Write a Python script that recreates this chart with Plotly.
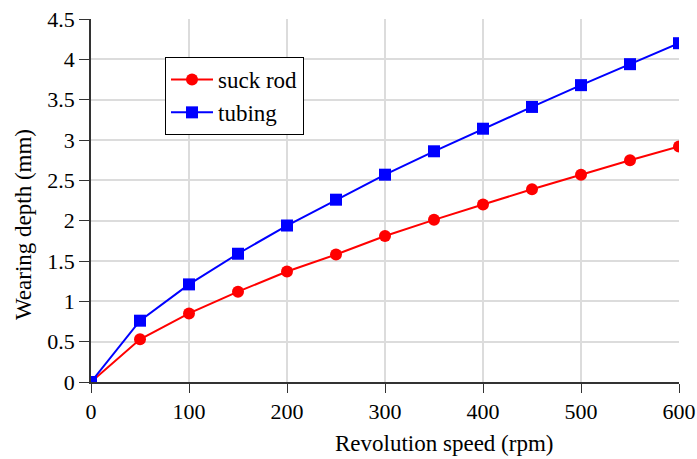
import plotly.graph_objects as go

speed = [0, 50, 100, 150, 200, 250, 300, 350, 400, 450, 500, 550, 600]
suck_rod = [0, 0.53, 0.85, 1.12, 1.37, 1.58, 1.81, 2.01, 2.20, 2.39, 2.57, 2.75, 2.92]
tubing = [0, 0.76, 1.21, 1.59, 1.94, 2.26, 2.57, 2.86, 3.14, 3.41, 3.68, 3.94, 4.20]
x_ticks = [0, 100, 200, 300, 400, 500, 600]
y_ticks = [0, 0.5, 1, 1.5, 2, 2.5, 3, 3.5, 4, 4.5]
y_tick_text = ["0", "0.5", "1", "1.5", "2", "2.5", "3", "3.5", "4", "4.5"]

FONT = "Times New Roman, Liberation Serif, serif"

fig = go.Figure()
fig.add_trace(go.Scatter(x=speed, y=suck_rod, name="suck rod", mode="lines+markers",
                         line=dict(color="#ff0000", width=2),
                         marker=dict(symbol="circle", size=12, color="#ff0000")))
fig.add_trace(go.Scatter(x=speed, y=tubing, name="tubing", mode="lines+markers",
                         line=dict(color="#0000ff", width=2),
                         marker=dict(symbol="square", size=12, color="#0000ff")))

fig.update_layout(
    width=697, height=459,
    margin=dict(l=91, r=18, t=19, b=77, autoexpand=False),
    paper_bgcolor="white", plot_bgcolor="white",
    font=dict(family=FONT, size=22, color="black"),
    showlegend=True,
    legend=dict(x=(165 - 91) / 588, y=(382 - 57) / 363, xanchor="left", yanchor="top",
                bordercolor="black", borderwidth=1, bgcolor="white",
                font=dict(family=FONT, size=23), tracegroupgap=0,
                itemwidth=42),
)
fig.update_xaxes(range=[0, 600], tickvals=x_ticks, showgrid=True, gridcolor="#dcdcdc",
                 gridwidth=1.5, showline=True, linecolor="#333333", linewidth=1.5,
                 ticks="outside", ticklen=9, tickcolor="#333333", zeroline=False,
                 automargin=False, tickfont=dict(family=FONT, size=22))
fig.update_yaxes(range=[0, 4.5], tickvals=y_ticks, ticktext=y_tick_text, showgrid=True,
                 gridcolor="#dcdcdc", gridwidth=1.5, showline=True, linecolor="#333333",
                 linewidth=1.5, ticks="outside", ticklen=10, tickcolor="#333333",
                 zeroline=False, automargin=False, tickfont=dict(family=FONT, size=22))

fig.add_annotation(text="Revolution speed (rpm)", xref="paper", yref="paper",
                   x=(444 - 91) / 588, y=-(443 - 382) / 363, xanchor="center", yanchor="middle",
                   showarrow=False, font=dict(family=FONT, size=23))
fig.add_annotation(text="Wearing depth (mm)", xref="paper", yref="paper",
                   x=-(91 - 24) / 588, y=(382 - 225) / 363, xanchor="center", yanchor="middle",
                   textangle=-90, showarrow=False, font=dict(family=FONT, size=23))

fig.write_html("out.html")
